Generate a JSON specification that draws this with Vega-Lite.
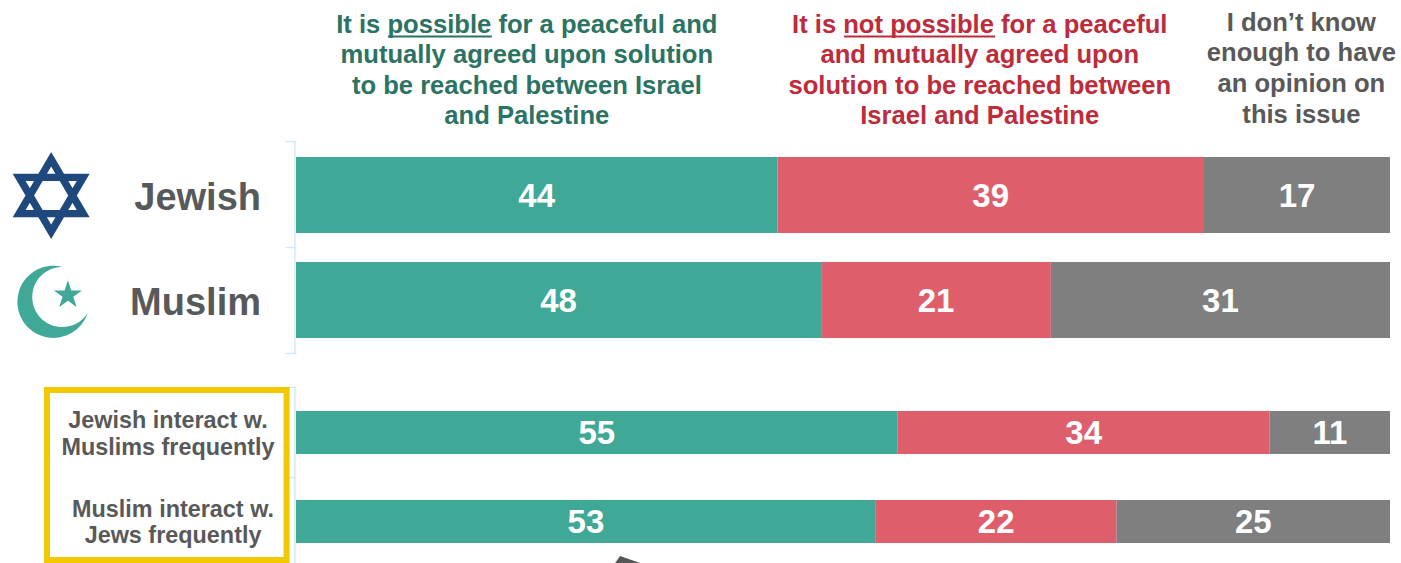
{
"$schema":"https://vega.github.io/schema/vega-lite/v6.json",
"width":1094,"height":563,
"autosize":{"type":"none"},
"padding":{"left":296,"right":11,"top":0,"bottom":0},
"background":"white",
"config":{"view":{"stroke":null},"text":{"font":"Liberation Sans","fontWeight":"bold"}},
"data":{"values":[{}]},
"datasets":{
"rows":[
{"group":"Jewish","tier":"all","answer":"Possible","rank":1,"pct":44},
{"group":"Jewish","tier":"all","answer":"Not possible","rank":2,"pct":39},
{"group":"Jewish","tier":"all","answer":"Don't know","rank":3,"pct":17},
{"group":"Muslim","tier":"all","answer":"Possible","rank":1,"pct":48},
{"group":"Muslim","tier":"all","answer":"Not possible","rank":2,"pct":21},
{"group":"Muslim","tier":"all","answer":"Don't know","rank":3,"pct":31},
{"group":"Jewish interact w.\nMuslims frequently","tier":"frequent","answer":"Possible","rank":1,"pct":55},
{"group":"Jewish interact w.\nMuslims frequently","tier":"frequent","answer":"Not possible","rank":2,"pct":34},
{"group":"Jewish interact w.\nMuslims frequently","tier":"frequent","answer":"Don't know","rank":3,"pct":11},
{"group":"Muslim interact w.\nJews frequently","tier":"frequent","answer":"Possible","rank":1,"pct":53},
{"group":"Muslim interact w.\nJews frequently","tier":"frequent","answer":"Not possible","rank":2,"pct":22},
{"group":"Muslim interact w.\nJews frequently","tier":"frequent","answer":"Don't know","rank":3,"pct":25}
],
"headers":[
{"answer":"Possible","line":1,"text":"It is possible for a peaceful and"},
{"answer":"Possible","line":2,"text":"mutually agreed upon solution"},
{"answer":"Possible","line":3,"text":"to be reached between Israel"},
{"answer":"Possible","line":4,"text":"and Palestine"},
{"answer":"Not possible","line":1,"text":"It is not possible for a peaceful"},
{"answer":"Not possible","line":2,"text":"and mutually agreed upon"},
{"answer":"Not possible","line":3,"text":"solution to be reached between"},
{"answer":"Not possible","line":4,"text":"Israel and Palestine"},
{"answer":"Don't know","line":1,"text":"I don’t know"},
{"answer":"Don't know","line":2,"text":"enough to have"},
{"answer":"Don't know","line":3,"text":"an opinion on"},
{"answer":"Don't know","line":4,"text":"this issue"}
]
},
"layer":[
{"description":"Category axis ticks on both bracket groups",
 "mark":{"type":"rule","opacity":0},
 "encoding":{"y":{"datum":141,"scale":{"domain":[0,563],"range":[0,563]},
   "axis":{"values":[141,247,353,387,477],"domain":false,"labels":false,"title":null,"grid":false,"tickColor":"#d6e8f6","tickSize":11,"tickWidth":1.5}}}},
{"mark":{"type":"rule","color":"#d6e8f6","strokeWidth":1.5},
 "encoding":{"x":{"datum":-0.1,"type":"quantitative","scale":{"domain":[0,100],"range":[0,1094]},"axis":null},
  "y":{"datum":141,"scale":{"domain":[0,563],"range":[0,563]},"axis":null},"y2":{"datum":353}}},
{"mark":{"type":"rule","color":"#d6e8f6","strokeWidth":1.5},
 "encoding":{"x":{"datum":-0.1,"type":"quantitative"},
  "y":{"datum":387,"scale":{"domain":[0,563],"range":[0,563]},"axis":null},"y2":{"datum":563}}},
{"data":{"name":"rows"},"transform":[{"filter":"datum.tier==='all'"}],
 "mark":{"type":"bar","size":76},
 "encoding":{
  "x":{"field":"pct","type":"quantitative","stack":"zero"},
  "y":{"field":"group","type":"nominal","scale":{"type":"point","padding":0,"domain":["Jewish","Muslim"],"range":[195,300]},"axis":null},
  "order":{"field":"rank"},
  "color":{"field":"answer","type":"nominal","scale":{"domain":["Possible","Not possible","Don't know"],"range":["#40a896","#de5f6b","#7f7f7f"]},"legend":null}}},
{"data":{"name":"rows"},"transform":[{"filter":"datum.tier==='frequent'"}],
 "mark":{"type":"bar","size":43},
 "encoding":{
  "x":{"field":"pct","type":"quantitative","stack":"zero"},
  "y":{"field":"group","type":"nominal","scale":{"type":"point","padding":0,"domain":["Jewish interact w.\nMuslims frequently","Muslim interact w.\nJews frequently"],"range":[432.5,521.5]},"axis":null},
  "order":{"field":"rank"},
  "color":{"field":"answer","type":"nominal","legend":null}}},
{"data":{"name":"rows"},"transform":[{"filter":"datum.tier==='all'"}],
 "mark":{"type":"text","fontSize":33,"color":"white","dy":2},
 "encoding":{
  "x":{"field":"pct","type":"quantitative","stack":"zero","bandPosition":0.5},
  "y":{"field":"group","type":"nominal","scale":{"type":"point","padding":0,"domain":["Jewish","Muslim"],"range":[195,300]},"axis":null},
  "order":{"field":"rank"},
  "text":{"field":"pct"}}},
{"data":{"name":"rows"},"transform":[{"filter":"datum.tier==='frequent'"}],
 "mark":{"type":"text","fontSize":33,"color":"white","dy":1.5},
 "encoding":{
  "x":{"field":"pct","type":"quantitative","stack":"zero","bandPosition":0.5},
  "y":{"field":"group","type":"nominal","scale":{"type":"point","padding":0,"domain":["Jewish interact w.\nMuslims frequently","Muslim interact w.\nJews frequently"],"range":[432.5,521.5]},"axis":null},
  "order":{"field":"rank"},
  "text":{"field":"pct"}}},
{"data":{"name":"rows"},"transform":[{"filter":"datum.tier==='all' && datum.rank===1"}],
 "mark":{"type":"text","fontSize":38,"color":"#58595b","align":"right","dy":4},
 "encoding":{
  "x":{"datum":-3.2,"type":"quantitative"},
  "y":{"field":"group","type":"nominal","scale":{"type":"point","padding":0,"domain":["Jewish","Muslim"],"range":[195,300]},"axis":null},
  "text":{"field":"group"}}},
{"data":{"name":"rows"},"transform":[{"filter":"datum.group==='Jewish interact w.\\nMuslims frequently' && datum.rank===1"}],
 "mark":{"type":"text","fontSize":23.4,"color":"#595959","lineBreak":"\n","lineHeight":26.5,"dy":-11.5},
 "encoding":{
  "x":{"datum":-11.7,"type":"quantitative"},
  "y":{"field":"group","type":"nominal","scale":{"type":"point","padding":0,"domain":["Jewish interact w.\nMuslims frequently","Muslim interact w.\nJews frequently"],"range":[432.5,521.5]},"axis":null},
  "text":{"field":"group"}}},
{"data":{"name":"rows"},"transform":[{"filter":"datum.group==='Muslim interact w.\\nJews frequently' && datum.rank===1"}],
 "mark":{"type":"text","fontSize":23.4,"color":"#595959","lineBreak":"\n","lineHeight":26.5,"dy":-12},
 "encoding":{
  "x":{"datum":-11.24,"type":"quantitative"},
  "y":{"field":"group","type":"nominal","scale":{"type":"point","padding":0,"domain":["Jewish interact w.\nMuslims frequently","Muslim interact w.\nJews frequently"],"range":[432.5,521.5]},"axis":null},
  "text":{"field":"group"}}},
{"data":{"name":"headers"},"transform":[{"filter":"datum.answer==='Possible'"}],
 "mark":{"type":"text","fontSize":25.6,"color":"#2b7362"},
 "encoding":{"x":{"datum":21.1,"type":"quantitative"},
  "y":{"field":"line","type":"ordinal","scale":{"type":"point","padding":0,"domain":[1,2,3,4],"range":[25,116]},"axis":null},
  "text":{"field":"text"}}},
{"data":{"name":"headers"},"transform":[{"filter":"datum.answer==='Not possible'"}],
 "mark":{"type":"text","fontSize":25.6,"color":"#be2b3b"},
 "encoding":{"x":{"datum":62.5,"type":"quantitative"},
  "y":{"field":"line","type":"ordinal","scale":{"type":"point","padding":0,"domain":[1,2,3,4],"range":[25,116]},"axis":null},
  "text":{"field":"text"}}},
{"data":{"name":"headers"},"transform":[{"filter":"datum.answer==='Don\\'t know'"}],
 "mark":{"type":"text","fontSize":25.6,"color":"#595959"},
 "encoding":{"x":{"datum":91.9,"type":"quantitative"},
  "y":{"field":"line","type":"ordinal","scale":{"type":"point","padding":0,"domain":[1,2,3,4],"range":[22.5,115]},"axis":null},
  "text":{"field":"text"}}},
{"description":"Underline beneath 'possible'",
 "mark":{"type":"rule","color":"#2b7362","strokeWidth":2},
 "encoding":{"x":{"datum":8.4,"type":"quantitative"},"x2":{"datum":17.9},
  "y":{"datum":36.5,"scale":{"domain":[0,563],"range":[0,563]},"axis":null}}},
{"description":"Underline beneath 'not possible'",
 "mark":{"type":"rule","color":"#be2b3b","strokeWidth":2},
 "encoding":{"x":{"datum":50.1,"type":"quantitative"},"x2":{"datum":63.9},
  "y":{"datum":36.5,"scale":{"domain":[0,563],"range":[0,563]},"axis":null}}},
{"description":"Frame around the frequent-interaction labels",
 "mark":{"type":"rect","fill":null,"stroke":"#f2c900","strokeWidth":6},
 "encoding":{"x":{"datum":-22.76,"type":"quantitative"},"x2":{"datum":-0.86},
  "y":{"datum":390,"scale":{"domain":[0,563],"range":[0,563]},"axis":null},"y2":{"datum":560}}},
{"description":"Star of David",
 "mark":{"type":"point","filled":true,"opacity":1,"color":"#1f497d","size":7569,
  "shape":"M0,-1L0.885,0.5L-0.885,0.5ZM0,-0.664L-0.588,0.332L0.588,0.332ZM0,1L-0.885,-0.5L0.885,-0.5ZM0,0.664L0.588,-0.332L-0.588,-0.332Z"},
 "encoding":{"x":{"datum":-22.38,"type":"quantitative"},
  "y":{"datum":"Jewish","scale":{"type":"point","padding":0,"domain":["Jewish","Muslim"],"range":[195.5,300.5]},"axis":null}}},
{"description":"Crescent",
 "mark":{"type":"point","filled":true,"opacity":1,"color":"#40a896","size":5184,
  "shape":"M0.25,-0.97A1,1 0 1 0 0.944,0.306A0.833,0.833 0 1 1 0.25,-0.97Z"},
 "encoding":{"x":{"datum":-22.15,"type":"quantitative"},
  "y":{"datum":"Muslim","scale":{"type":"point","padding":0,"domain":["Jewish","Muslim"],"range":[197,302]},"axis":null}}},
{"description":"Crescent's star",
 "mark":{"type":"point","filled":true,"opacity":1,"color":"#40a896","size":870,
  "shape":"M0,-1L0.225,-0.309L0.951,-0.309L0.363,0.118L0.588,0.809L0,0.382L-0.588,0.809L-0.363,0.118L-0.951,-0.309L-0.225,-0.309Z"},
 "encoding":{"x":{"datum":-20.85,"type":"quantitative"},
  "y":{"datum":"Muslim","scale":{"type":"point","padding":0,"domain":["Jewish","Muslim"],"range":[190,295]},"axis":null}}},
{"description":"Corner of a shape cut off by the lower edge",
 "mark":{"type":"point","filled":true,"opacity":1,"color":"#555555","size":784,
  "shape":"M-0.5,-0.5L0.93,0L0.8,1L-0.85,1L-0.85,0Z"},
 "encoding":{"x":{"datum":30.26,"type":"quantitative"},
  "y":{"datum":563,"scale":{"domain":[0,563],"range":[0,563]},"axis":null}}}
],
"resolve":{"scale":{"y":"independent"}}
}
